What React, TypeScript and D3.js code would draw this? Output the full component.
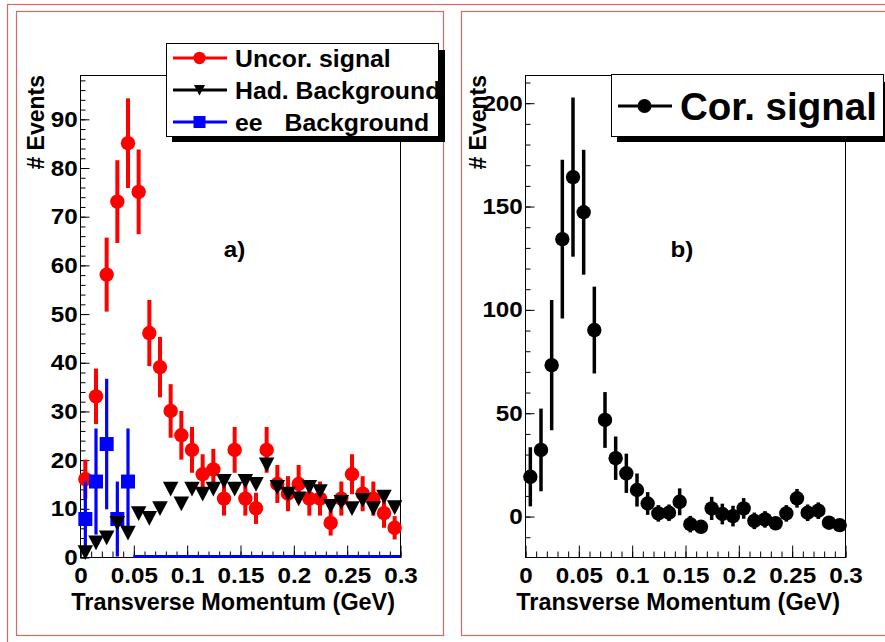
import React, { useEffect, useRef } from 'react';
import * as d3 from 'd3';

const FONT = "'Liberation Sans', Arial, Helvetica, sans-serif";

// bin centres (GeV), 0.01 wide bins
const binCenters = [0.005, 0.015, 0.025, 0.035, 0.045, 0.055, 0.065, 0.075, 0.085, 0.095,
  0.105, 0.115, 0.125, 0.135, 0.145, 0.155, 0.165, 0.175, 0.185, 0.195,
  0.205, 0.215, 0.225, 0.235, 0.245, 0.255, 0.265, 0.275, 0.285, 0.295];

// panel a)
const uncorSignal = [16, 33, 58, 73, 85, 75, 46, 39, 30, 25, 22, 17, 18, 12, 22, 12, 10, 22, 15, 13, 15, 12, 12, 7, 12, 17, 13, 12, 9, 6];
const uncorErr = [4, 5.7, 7.6, 8.5, 9.2, 8.7, 6.8, 6.2, 5.5, 5, 4.7, 4.1, 4.2, 3.5, 4.7, 3.5, 3.2, 4.7, 3.9, 3.6, 3.9, 3.5, 3.5, 2.6, 3.5, 4.1, 3.6, 3.5, 3, 2.4];
const hadBackground = [1, 3, 4, 7, 5, 9, 8, 10, 14, 11, 14, 13, 14, 15.6, 14, 15.6, 15, 19, 14.4, 13, 12, 14.4, 13.5, 10.5, 11.3, 10, 11.7, 10, 12.4, 10.2];
const eeBins = [0.005, 0.015, 0.025, 0.035, 0.045];
const eeBackground = [7.8, 15.5, 23.2, 7.8, 15.5];
const eeErr = [7.7, 10.9, 13.4, 7.7, 10.9];
const eeZeroRange = [0.05, 0.3];

// panel b)
const corSignal = [19, 32, 73, 134, 164, 147, 90, 46.5, 28, 20.7, 12.6, 6.1, 1.3, 1.6, 6.9, -3.9, -5.2, 3.7, 1, 0, 3.7, -2.3, -1.6, -3.5, 1.3, 8.6, 1.6, 2.6, -3.2, -4.4];
const corErr = [14.3, 20, 31.5, 38.4, 38.5, 30.2, 21, 13.5, 10.5, 9.5, 8, 5.5, 4, 4, 6.5, 4, 3, 5.6, 5, 5, 5, 4, 4, 3, 4, 4.5, 4, 4, 3, 3];

const xTicks = [0, 0.05, 0.1, 0.15, 0.2, 0.25, 0.3];
const xTickLabels = ['0', '0.05', '0.1', '0.15', '0.2', '0.25', '0.3'];
const yTicksA = [0, 10, 20, 30, 40, 50, 60, 70, 80, 90];
const yTickLabelsA = ['0', '10', '20', '30', '40', '50', '60', '70', '80', '90'];
const yTicksB = [0, 50, 100, 150, 200];
const yTickLabelsB = ['0', '50', '100', '150', '200'];

const legendA = ['Uncor. signal', 'Had. Background', 'ee'];
const legendB = 'Cor. signal';

const PAD_RED = '#e06666';

const App = () => {
    const svgRef = useRef<SVGSVGElement>(null);

    useEffect(() => {
        const svg = d3.select(svgRef.current);
        svg.selectAll('*').remove();

        // canvas and pad frames
        svg.append('rect').attr('x', 7.5).attr('y', 4.5).attr('width', 900).attr('height', 700)
            .attr('fill', 'none').attr('stroke', PAD_RED).attr('stroke-width', 1.2);
        svg.append('rect').attr('x', 16.5).attr('y', 11.5).attr('width', 427).attr('height', 624)
            .attr('fill', 'none').attr('stroke', PAD_RED).attr('stroke-width', 1.2);
        svg.append('rect').attr('x', 461.5).attr('y', 11.5).attr('width', 440).attr('height', 624)
            .attr('fill', 'none').attr('stroke', PAD_RED).attr('stroke-width', 1.2);

        const drawFrame = (x, y, box, yTicks, yLabels, yMinorCount, label, labelX, titleX, yTitleX, id) => {
            svg.append('clipPath').attr('id', id).append('rect')
                .attr('x', box.left).attr('y', box.top)
                .attr('width', box.right - box.left).attr('height', box.bottom - box.top);

            svg.append('rect')
                .attr('x', box.left + 0.5).attr('y', box.top + 0.5)
                .attr('width', box.right - box.left).attr('height', box.bottom - box.top)
                .attr('fill', 'none').attr('stroke', '#000').attr('stroke-width', 1);

            const styleAxis = (g) => {
                g.select('.domain').remove();
                g.selectAll('line').attr('stroke', '#000').attr('stroke-width', 1);
                g.selectAll('text')
                    .attr('font-family', FONT).attr('font-weight', 'bold')
                    .attr('font-size', 22).attr('fill', '#000')
                    .attr('transform', 'scale(1.1,1)');
            };

            svg.append('g').attr('transform', `translate(0.5,${box.bottom + 0.5})`)
                .call(d3.axisBottom(x).tickValues(x.ticks(30)).tickSize(-6).tickSizeOuter(0).tickFormat(() => ''))
                .call(styleAxis);
            svg.append('g').attr('transform', `translate(0.5,${box.bottom + 0.5})`)
                .call(d3.axisBottom(x).tickValues(xTicks).tickSize(-12).tickSizeOuter(0).tickPadding(10)
                    .tickFormat((_, i) => xTickLabels[i]))
                .call(styleAxis);

            svg.append('g').attr('transform', `translate(${box.left + 0.5},0.5)`)
                .call(d3.axisLeft(y).tickValues(y.ticks(yMinorCount)).tickSize(-5).tickSizeOuter(0).tickFormat(() => ''))
                .call(styleAxis);
            svg.append('g').attr('transform', `translate(${box.left + 0.5},0.5)`)
                .call(d3.axisLeft(y).tickValues(yTicks).tickSize(-9).tickSizeOuter(0).tickPadding(2.5)
                    .tickFormat((_, i) => yLabels[i]))
                .call(styleAxis);

            svg.append('text')
                .attr('x', titleX).attr('y', 610).attr('text-anchor', 'end')
                .attr('font-family', FONT).attr('font-weight', 'bold').attr('font-size', 23.4)
                .text('Transverse Momentum (GeV)');

            svg.append('text')
                .attr('transform', `translate(${yTitleX},${box.top}) rotate(-90)`)
                .attr('text-anchor', 'end')
                .attr('font-family', FONT).attr('font-weight', 'bold').attr('font-size', 23)
                .text('# Events');

            svg.append('text')
                .attr('transform', `translate(${labelX},257) scale(1.1,1)`)
                .attr('text-anchor', 'middle')
                .attr('font-family', FONT).attr('font-weight', 'bold').attr('font-size', 22)
                .text(label);
        };

        const errorBars = (x, y, xs, vals, errs, color, width, clipId) => {
            svg.append('g').attr('clip-path', `url(#${clipId})`)
                .selectAll('line')
                .data(vals)
                .enter().append('line')
                .attr('x1', (_, i) => x(xs[i])).attr('x2', (_, i) => x(xs[i]))
                .attr('y1', (d, i) => y(d - errs[i])).attr('y2', (d, i) => y(d + errs[i]))
                .attr('stroke', color).attr('stroke-width', width);
        };

        const triangle = (s) => `M${-s / 2},${-s * 0.45}L${s / 2},${-s * 0.45}L0,${s * 0.5}Z`;

        // ---------------- panel a)
        const boxA = { left: 80, right: 400, top: 75, bottom: 557 };
        const xA = d3.scaleLinear().domain([0, 0.3]).range([boxA.left, boxA.right]);
        const yA = d3.scaleLinear().domain([0, 99]).range([boxA.bottom, boxA.top]);
        drawFrame(xA, yA, boxA, yTicksA, yTickLabelsA, 50, 'a)', 234.5, 395, 43.5, 'clipA');

        // red: uncorrected signal
        errorBars(xA, yA, binCenters, uncorSignal, uncorErr, '#ff0000', 4, 'clipA');
        svg.append('g').selectAll('circle')
            .data(uncorSignal)
            .enter().append('circle')
            .attr('cx', (_, i) => xA(binCenters[i])).attr('cy', d => yA(d))
            .attr('r', 7.2).attr('fill', '#ff0000');

        // blue: ee background
        svg.append('line')
            .attr('x1', xA(eeZeroRange[0])).attr('x2', xA(eeZeroRange[1]))
            .attr('y1', yA(0) - 0.5).attr('y2', yA(0) - 0.5)
            .attr('stroke', '#0000ff').attr('stroke-width', 3);
        errorBars(xA, yA, eeBins, eeBackground, eeErr, '#0000ff', 3.2, 'clipA');
        svg.append('g').selectAll('rect')
            .data(eeBackground)
            .enter().append('rect')
            .attr('x', (_, i) => xA(eeBins[i]) - 7).attr('y', d => yA(d) - 7)
            .attr('width', 14).attr('height', 14).attr('fill', '#0000ff');

        // black: hadronic background
        svg.append('g').selectAll('path')
            .data(hadBackground)
            .enter().append('path')
            .attr('transform', (d, i) => `translate(${xA(binCenters[i])},${yA(d)})`)
            .attr('d', triangle(15.5)).attr('fill', '#000');

        // legend a)
        svg.append('rect').attr('x', 172).attr('y', 50).attr('width', 273).attr('height', 92).attr('fill', '#000');
        svg.append('rect').attr('x', 166.5).attr('y', 43.5).attr('width', 272).attr('height', 93)
            .attr('fill', '#fff').attr('stroke', '#000').attr('stroke-width', 1);
        const rowsA = [58, 90, 122];
        const colorsA = ['#ff0000', '#000000', '#0000ff'];
        rowsA.forEach((cy, i) => {
            svg.append('line').attr('x1', 173).attr('x2', 227).attr('y1', cy).attr('y2', cy)
                .attr('stroke', colorsA[i]).attr('stroke-width', 3);
            if (i === 0) {
                svg.append('circle').attr('cx', 199.5).attr('cy', cy).attr('r', 6.2).attr('fill', colorsA[i]);
            } else if (i === 1) {
                svg.append('path').attr('transform', `translate(199.5,${cy})`).attr('d', triangle(11)).attr('fill', '#000');
            } else {
                svg.append('rect').attr('x', 193.5).attr('y', cy - 6).attr('width', 12).attr('height', 12).attr('fill', colorsA[i]);
            }
            svg.append('text').attr('x', 235).attr('y', cy + 8.8)
                .attr('font-family', FONT).attr('font-weight', 'bold').attr('font-size', 24.8)
                .text(legendA[i]);
        });
        svg.append('text').attr('x', 284.5).attr('y', rowsA[2] + 8.8)
            .attr('font-family', FONT).attr('font-weight', 'bold').attr('font-size', 24.8)
            .text('Background');

        // ---------------- panel b)
        const boxB = { left: 525, right: 845, top: 75, bottom: 557 };
        const xB = d3.scaleLinear().domain([0, 0.3]).range([boxB.left, boxB.right]);
        const yB = d3.scaleLinear().domain([-19.8, 213.4]).range([boxB.bottom, boxB.top]);
        drawFrame(xB, yB, boxB, yTicksB, yTickLabelsB, 24, 'b)', 682, 840, 485.5, 'clipB');

        errorBars(xB, yB, binCenters, corSignal, corErr, '#000', 3.5, 'clipB');
        svg.append('g').selectAll('circle')
            .data(corSignal)
            .enter().append('circle')
            .attr('cx', (_, i) => xB(binCenters[i])).attr('cy', d => yB(d))
            .attr('r', 7.2).attr('fill', '#000');

        // legend b)
        svg.append('rect').attr('x', 617).attr('y', 82).attr('width', 280).attr('height', 60).attr('fill', '#000');
        svg.append('rect').attr('x', 611.5).attr('y', 74.5).attr('width', 272).attr('height', 62)
            .attr('fill', '#fff').attr('stroke', '#000').attr('stroke-width', 1);
        svg.append('line').attr('x1', 618).attr('x2', 672).attr('y1', 106).attr('y2', 106)
            .attr('stroke', '#000').attr('stroke-width', 3);
        svg.append('circle').attr('cx', 644.5).attr('cy', 106).attr('r', 7).attr('fill', '#000');
        svg.append('text').attr('x', 680).attr('y', 120)
            .attr('font-family', FONT).attr('font-weight', 'bold').attr('font-size', 38.5)
            .text(legendB);
    }, []);

    return (
        <svg ref={svgRef} width={885} height={642}
            style={{ position: 'absolute', left: 0, top: 0, background: '#fff' }} />
    );
};

export default App;
